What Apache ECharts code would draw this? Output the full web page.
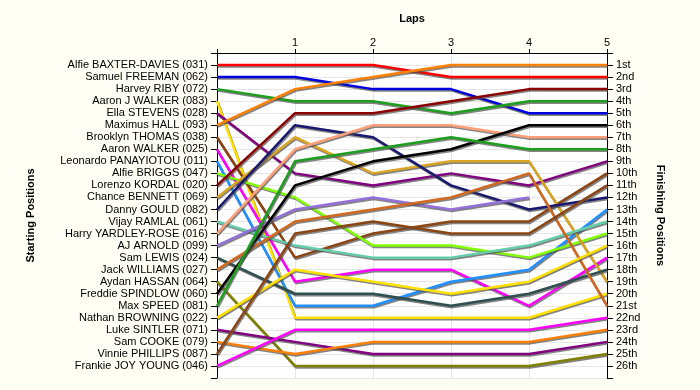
<!DOCTYPE html>
<html>
<head>
<meta charset="utf-8">
<script src="https://cdn.jsdelivr.net/npm/echarts@6/dist/echarts.min.js"></script>
<style>
html,body{margin:0;padding:0;background:#FFFFF5;}
#c{width:700px;height:390px;}
</style>
</head>
<body>
<div id="c"></div>
<script>
const drivers = ["Alfie BAXTER-DAVIES (031)", "Samuel FREEMAN (062)", "Harvey RIBY (072)", "Aaron J WALKER (083)", "Ella STEVENS (028)", "Maximus HALL (093)", "Brooklyn THOMAS (038)", "Aaron WALKER (025)", "Leonardo PANAYIOTOU (011)", "Alfie BRIGGS (047)", "Lorenzo KORDAL (020)", "Chance BENNETT (069)", "Danny GOULD (082)", "Vijay RAMLAL (061)", "Harry YARDLEY-ROSE (016)", "AJ ARNOLD (099)", "Sam LEWIS (024)", "Jack WILLIAMS (027)", "Aydan HASSAN (064)", "Freddie SPINDLOW (060)", "Max SPEED (081)", "Nathan BROWNING (022)", "Luke SINTLER (071)", "Sam COOKE (079)", "Vinnie PHILLIPS (087)", "Frankie JOY YOUNG (046)"];
const finishLabels = ["1st","2nd","3rd","4th","5th","6th","7th","8th","9th","10th","11th","12th","13th","14th","15th","16th","17th","18th","19th","20th","21st","22nd","23rd","24th","25th","26th"];
const laps = [0,1,2,3,4,5];
// position of each driver (same order as drivers) after each lap
const lap0 = [1,2,3,4,5,6,7,8,9,10,11,12,13,14,15,16,17,18,19,20,21,22,23,24,25,26];
const lap1 = [1,2,4,22,10,3,17,19,21,12,5,7,6,16,8,13,20,14,26,11,9,18,24,25,15,23];
const lap2 = [1,3,4,22,11,2,15,18,21,16,5,10,7,17,6,12,20,13,26,9,8,19,25,24,14,23];
const lap3 = [2,3,5,22,10,1,14,18,19,16,4,9,11,17,6,13,21,12,26,8,7,20,25,24,15,23];
const lap4 = [2,5,4,22,11,1,14,21,18,17,3,9,13,16,7,12,20,10,26,6,8,19,25,24,15,23];
const lap5 = [2,5,4,20,9,1,10,17,13,15,3,19,12,14,7,null,18,21,25,6,8,16,24,23,11,22];

const lineColors = ["#FF0000","#0000DD","#1E9E1E","#FFE000","#800080","#FF8000","#8B4513","#FF00FF","#1E90FF","#7FFF00","#8B0000","#DAA520","#191970","#66CDAA","#FFA07A","#9370DB","#2F4F4F","#D2691E","#808000","#000000","#1E9E1E","#FFE000","#800080","#FF8000","#8B4513","#FF00FF"];

const lapTable = [lap0, lap1, lap2, lap3, lap4, lap5];
const series = drivers.map((d, i) => ({
  name: d,
  type: 'line',
  xAxisIndex: 0,
  yAxisIndex: 0,
  showSymbol: false,
  symbol: 'none',
  animation: false,
  data: laps.map(l => [l, lapTable[l][i]]).filter(p => p[1] !== null),
  lineStyle: {
    color: lineColors[i],
    width: 2.5,
    shadowColor: 'rgba(80,80,80,0.7)',
    shadowBlur: 0,
    shadowOffsetX: 1,
    shadowOffsetY: 1.5
  },
  z: 3
}));

const font = 'Arial, "Liberation Sans", sans-serif';
const fs = 11;
const chart = echarts.init(document.getElementById('c'));
chart.setOption({
  backgroundColor: '#FFFFF5',
  animation: false,
  grid: {left: 217, right: 93, top: 53, bottom: 12, show: true, backgroundColor: '#FFFFFF', borderWidth: 0},
  xAxis: {
    type: 'value', position: 'top', min: 0, max: 5, interval: 1,
    name: 'Laps', nameLocation: 'middle', nameGap: 29,
    nameTextStyle: {fontWeight: 'bold', fontSize: fs, color: '#000', fontFamily: font},
    axisLine: {show: true, lineStyle: {color: '#000', width: 1}},
    axisTick: {show: true, length: 4, lineStyle: {color: '#000'}},
    axisLabel: {margin: 5, fontSize: fs, color: '#000', fontFamily: font, formatter: v => v === 0 ? '' : String(v)},
    splitLine: {show: true, lineStyle: {color: '#E6E6E6', width: 1}}
  },
  yAxis: [{
    type: 'value', position: 'left', inverse: true, min: 0, max: 27, interval: 1,
    name: 'Starting Positions', nameLocation: 'middle', nameGap: 181, nameRotate: 90,
    nameTextStyle: {fontWeight: 'bold', fontSize: fs, color: '#000', fontFamily: font},
    axisLine: {show: true, onZero: false, lineStyle: {color: '#000', width: 1}},
    axisTick: {show: true, length: 6, lineStyle: {color: '#000'}},
    axisLabel: {margin: 9, fontSize: fs, color: '#000', fontFamily: font, formatter: v => (v >= 1 && v <= drivers.length) ? drivers[v - 1] : ''},
    splitLine: {show: true, lineStyle: {color: '#E6E6E6', width: 1}}
  }, {
    type: 'value', position: 'right', inverse: true, min: 0, max: 27, interval: 1,
    name: 'Finishing Positions', nameLocation: 'middle', nameGap: 48, nameRotate: -90,
    nameTextStyle: {fontWeight: 'bold', fontSize: fs, color: '#000', fontFamily: font},
    axisLine: {show: true, onZero: false, lineStyle: {color: '#000', width: 1}},
    axisTick: {show: true, length: 6, lineStyle: {color: '#000'}},
    axisLabel: {margin: 9, fontSize: fs, color: '#000', fontFamily: font, formatter: v => (v >= 1 && v <= finishLabels.length) ? finishLabels[v - 1] : ''},
    splitLine: {show: false}
  }],
  series: series
});
</script>
</body>
</html>
